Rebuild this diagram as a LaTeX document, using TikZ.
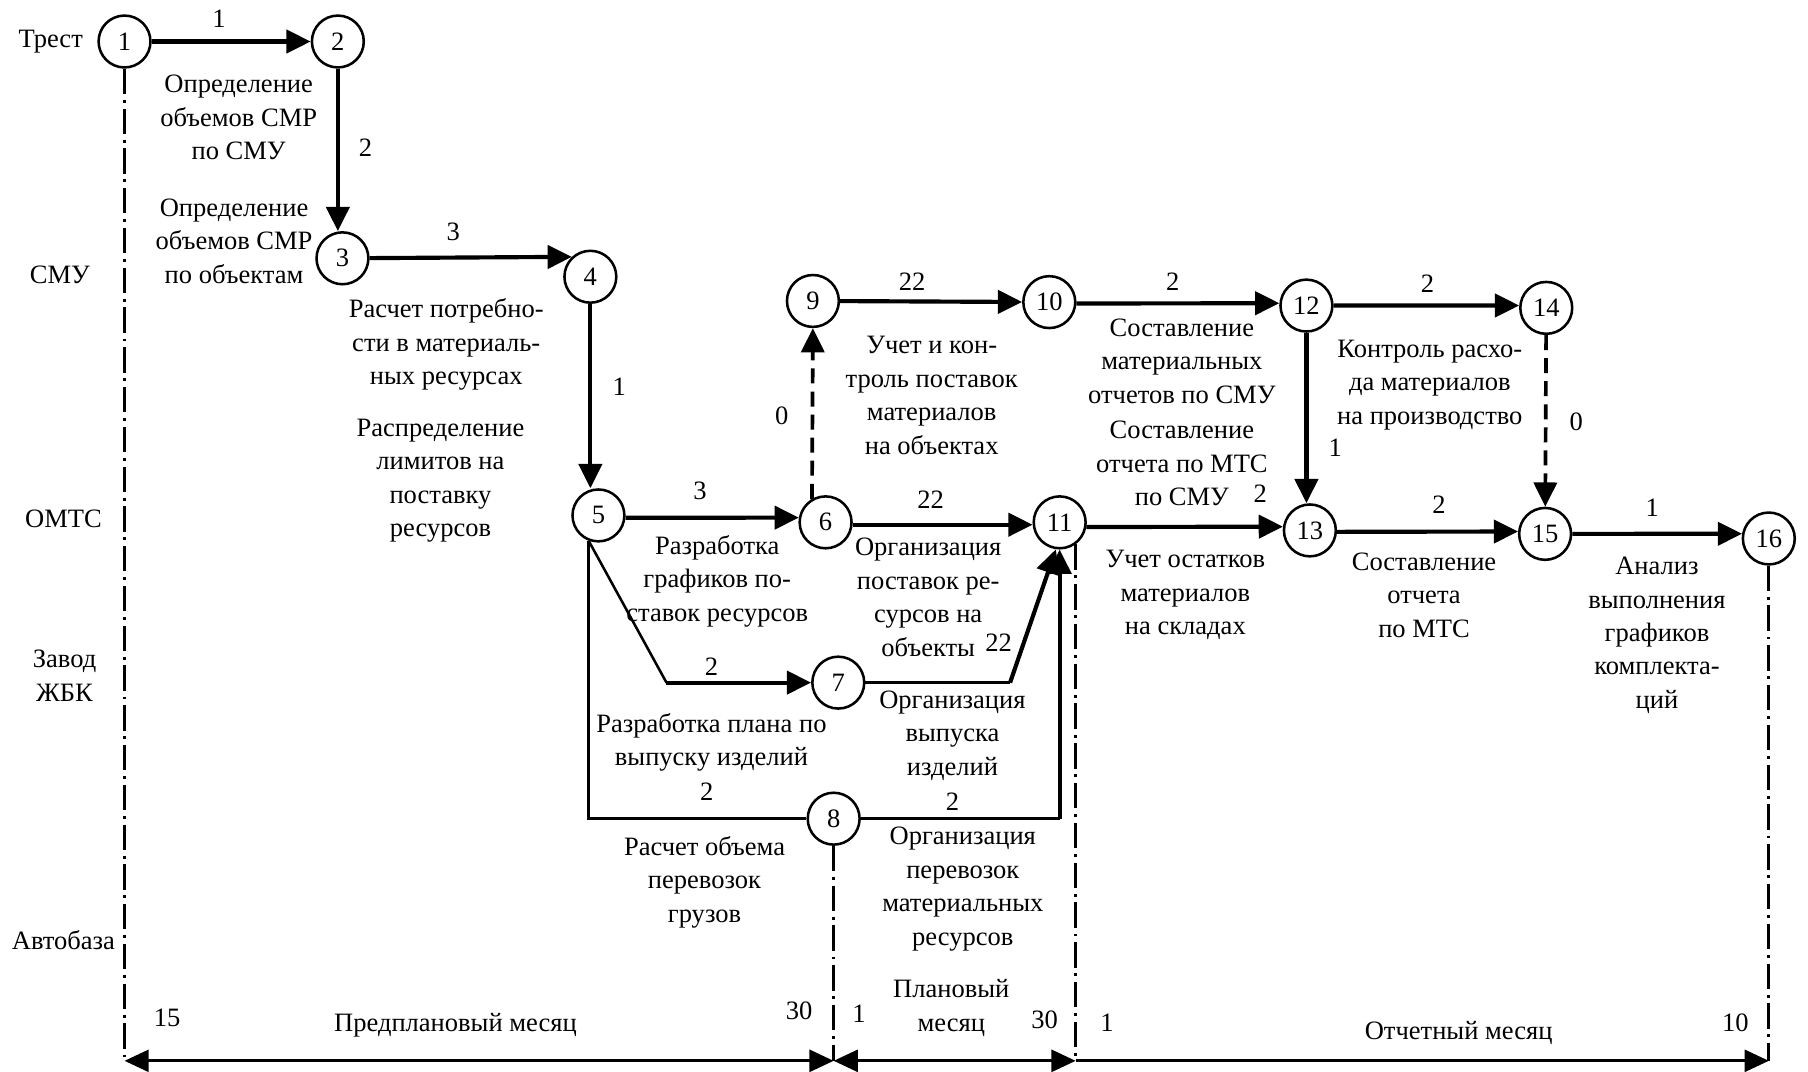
\documentclass[tikz,border=0pt]{standalone}
\usepackage{fontspec}
\setmainfont{Liberation Serif}
\usetikzlibrary{arrows.meta,calc}

\begin{document}
\begin{tikzpicture}[x=1pt,y=-1pt,
  event/.style={circle,draw,line width=2.2pt,minimum size=45pt,inner sep=0pt,
    font=\fontsize{23}{29}\selectfont},
  txt/.style={align=center,inner sep=0pt,font=\fontsize{23}{29}\selectfont},
  work/.style={line width=3.6pt,-{Triangle[length=21pt,width=20pt]}},
  link/.style={line width=2.2pt},
  dummy/.style={line width=3.2pt,dash pattern=on 13pt off 7pt,-{Triangle[length=21pt,width=20pt]}},
  bound/.style={line width=2.6pt,dash pattern=on 22pt off 5pt on 2.5pt off 5pt},
  span/.style={line width=2.6pt}
]
\useasboundingbox (0,0) rectangle (1568,929);

% events
\node[event] (n1)  at (108,36)  {1};
\node[event] (n2)  at (293,36)  {2};
\node[event] (n3)  at (297,224) {3};
\node[event] (n4)  at (512,240) {4};
\node[event] (n5)  at (519,447) {5};
\node[event] (n6)  at (716,453) {6};
\node[event] (n7)  at (727,592) {7};
\node[event] (n8)  at (723,710) {8};
\node[event] (n9)  at (705,261) {9};
\node[event] (n10) at (910,262) {10};
\node[event] (n11) at (919,453) {11};
\node[event] (n12) at (1133,265) {12};
\node[event] (n13) at (1136,460) {13};
\node[event] (n14) at (1341,267) {14};
\node[event] (n15) at (1340,463) {15};
\node[event] (n16) at (1534,467) {16};

% departments
\node[txt] (lTrest) at (44,36)  {Трест};
\node[txt] (lSMU)   at (52,238) {СМУ};
\node[txt] (lOMTS)  at (55,450) {ОМТС};
\node[txt] (lZBK)   at (56,586) {Завод\\ЖБК};
\node[txt] (lAvto)  at (55,815) {Автобаза};

% works (horizontal arrows meet the circles off centre where rows step down)
\draw[work] (n1) -- (n2);
\draw[work] (n2) -- (n2 |- n3.north);
\draw[work] (n3) -- (n4.133);
\draw[work] (n4) -- (n4 |- n5.north);
\draw[work] (n5.-5) -- (n6.170);
\draw[dummy] (n6.120) -- (n9.south);
\draw[work] (n9) -- (n10);
\draw[work] (n6.-5) -- (n11.185);
\draw[work] (n10.-3) -- (n12.175);
\draw[work] (n12) -- (n14.175);
\draw[work] (n12) -- (n12 |- n13.north);
\draw[work] (n11.-10) -- (n13.172);
\draw[work] (n13.-3) -- (n15.175);
\draw[dummy] (n14) -- (n15);
\draw[work] (n15) -- (n16.170);
\coordinate (k57) at (578,592);
\draw[link] (n5.-111) -- (k57);
\draw[work] (k57) -- (n7);
\draw[link] (n5.-111) -- (n5.-111 |- n8) -- (n8);
\coordinate (k711) at (876,592);
\draw[link] (n7) -- (k711);
\draw[work] (k711) -- (n11.262);
\coordinate (k811) at (n11.south |- n8);
\draw[link] (n8) -- (k811);
\draw[work] (k811) -- (n11.south);

% activity captions
\node[txt] (t12)   at (207,102) {Определение\\объемов СМР\\по СМУ};
\node[txt] (t23)   at (203,209) {Определение\\объемов СМР\\по объектам};
\node[txt] (t34)   at (387,299) {Расчет потребно-\\сти в материаль-\\ных ресурсах};
\node[txt] (t45)   at (382,417) {Распределение\\лимитов на\\поставку\\ресурсов};
\node[txt] (t56)   at (622,504) {Разработка\\графиков по-\\ставок ресурсов};
\node[txt] (t611)  at (805,518) {Организация\\поставок ре-\\сурсов на\\объекты};
\node[txt] (t910)  at (808,343) {Учет и кон-\\троль поставок\\материалов\\на объектах};
\node[txt] (t1012) at (1025,313) {Составление\\материальных\\отчетов по СМУ};
\node[txt] (t1213) at (1025,402) {Составление\\отчета по МТС\\по СМУ};
\node[txt] (t1214) at (1240,334) {Контроль расхо-\\да материалов\\на производство};
\node[txt] (t1113) at (1028,516) {Учет остатков\\материалов\\на складах};
\node[txt] (t1315) at (1235,516) {Составление\\отчета\\по МТС};
\node[txt] (t1516) at (1437,551) {Анализ\\выполнения\\графиков\\комплекта-\\ций};
\node[txt] (t57)   at (617,644) {Разработка плана по\\выпуску изделий};
\node[txt] (t711)  at (826,638) {Организация\\выпуска\\изделий};
\node[txt] (t58)   at (611,765) {Расчет объема\\перевозок\\грузов};
\node[txt] (t811)  at (835,771) {Организация\\перевозок\\материальных\\ресурсов};

% durations
\node[txt] (w12)   at (190,16)  {1};
\node[txt] (w23)   at (317,128) {2};
\node[txt] (w34)   at (393,201) {3};
\node[txt] (w45)   at (537,335) {1};
\node[txt] (w56)   at (607,426) {3};
\node[txt] (w69)   at (678,361) {0};
\node[txt] (w910)  at (791,244) {22};
\node[txt] (w611)  at (807,433) {22};
\node[txt] (w1012) at (1017,244) {2};
\node[txt] (w711)  at (866,557) {22};
\node[txt] (w57)   at (617,578) {2};
\node[txt] (w58)   at (613,687) {2};
\node[txt] (w811)  at (826,695) {2};
\node[txt] (w1113) at (1093,428) {2};
\node[txt] (w1213) at (1158,388) {1};
\node[txt] (w1214) at (1238,246) {2};
\node[txt] (w1315) at (1248,438) {2};
\node[txt] (w1415) at (1367,366) {0};
\node[txt] (w1516) at (1433,440) {1};

% time scale
\coordinate (axis) at (0,920);
\draw[bound] (n1.south) -- (n1.south |- axis);
\draw[bound] (n8.south) -- (n8.south |- axis);
\draw[bound] (n11.-54) -- (n11.-54 |- axis);
\draw[bound] (n16.south) -- (n16.south |- axis);
\draw[span,{Triangle[length=21pt,width=19pt]}-{Triangle[length=21pt,width=19pt]}]
  (n1.south |- axis) -- (n8.south |- axis);
\draw[span,{Triangle[length=21pt,width=19pt]}-{Triangle[length=21pt,width=19pt]}]
  (n8.south |- axis) -- (n11.-54 |- axis);
\draw[span,-{Triangle[length=21pt,width=19pt]}]
  (n11.-54 |- axis) -- (n16.south |- axis);

\node[txt] (d15)  at (145,883) {15};
\node[txt] (pre)  at (395,889) {Предплановый месяц};
\node[txt] (d30a) at (693,877) {30};
\node[txt] (d1a)  at (745,879) {1};
\node[txt] (plan) at (825,874) {Плановый\\месяц};
\node[txt] (d30b) at (906,884) {30};
\node[txt] (d1b)  at (960,887) {1};
\node[txt] (rep)  at (1265,896) {Отчетный месяц};
\node[txt] (d10)  at (1505,887) {10};
\end{tikzpicture}
\end{document}
